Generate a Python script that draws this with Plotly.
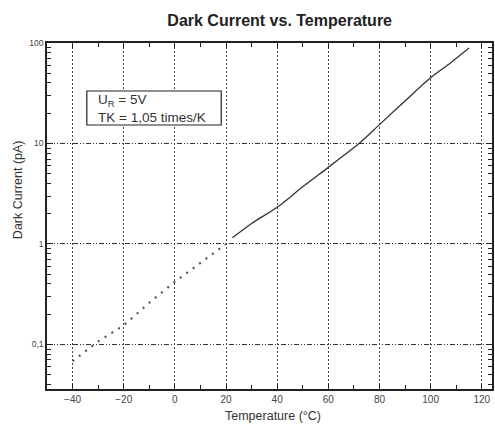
import plotly.graph_objects as go
import numpy as np

# Measured (solid) segment
temp_meas = [22.5, 30, 40, 50, 60, 66, 72, 80, 90, 100, 108, 115]
cur_meas = [1.15, 1.6, 2.32, 3.7, 5.78, 7.6, 10.0, 15.4, 26.5, 45.0, 64.0, 89.0]

# Extrapolated (dotted) segment
temp_extra = [-40, -30, -20, -10, 0, 10, 20]
cur_extra = [0.068, 0.107, 0.155, 0.26, 0.42, 0.65, 1.0]

x_ticks = [-40, -20, 0, 20, 40, 60, 80, 100, 120]
y_ticks = [0.1, 1, 10, 100]
y_ticklabels = ["0,1", "1", "10", "100"]
y_minor = [0.04, 0.05, 0.06, 0.07, 0.08, 0.09,
           0.2, 0.3, 0.4, 0.5, 0.6, 0.7, 0.8, 0.9,
           2, 3, 4, 5, 6, 7, 8, 9,
           20, 30, 40, 50, 60, 70, 80, 90]

fig = go.Figure()
fig.add_trace(go.Scatter(x=temp_extra, y=cur_extra, mode="lines",
                         line=dict(color="#555", width=2.2, dash="2px,6px"),
                         showlegend=False))
fig.add_trace(go.Scatter(x=temp_meas, y=cur_meas, mode="lines",
                         line=dict(color="#333", width=1.3, shape="spline"),
                         showlegend=False))

fig.update_layout(
    width=495, height=440,
    margin=dict(l=47, r=1, t=43, b=51),
    paper_bgcolor="white", plot_bgcolor="white",
    font=dict(family="Liberation Sans, Arial, sans-serif", color="#333"),
    title=dict(text="<b>Dark Current vs. Temperature</b>", x=0.565, xanchor="center",
               y=0.953, yanchor="middle", font=dict(size=16, color="#222")),
    xaxis=dict(range=[-50, 124], tickvals=x_ticks, ticks="inside", ticklen=6,
               tickcolor="#222", showline=True, linecolor="#222", linewidth=1.5,
               mirror="ticks", showgrid=True, gridcolor="#444", griddash="2px,2px",
               gridwidth=1, zeroline=False, tickfont=dict(size=10, color="#444"),
               minor=dict(dtick=10, tick0=0, ticks="inside", ticklen=4, tickcolor="#222", showgrid=False)),
    yaxis=dict(type="log", range=[np.log10(0.036), 2], tickvals=y_ticks, ticktext=y_ticklabels,
               ticks="inside", ticklen=6, tickcolor="#222", showline=True, linecolor="#222",
               linewidth=1.5, mirror="ticks", showgrid=True, gridcolor="#333",
               griddash="5px,2px,1px,2px,1px,2px", gridwidth=1.3, zeroline=False,
               tickfont=dict(size=8.5, color="#444"),
               minor=dict(tickvals=y_minor, ticks="inside", ticklen=4, tickcolor="#222", showgrid=False)),
)

# Axis titles
fig.add_annotation(xref="paper", yref="paper", x=(274 - 47) / 447, y=(389 - 416) / 346,
                   xanchor="center", yanchor="middle", showarrow=False,
                   text="Temperature (°C)", font=dict(size=12.5, color="#333"))
fig.add_annotation(xref="paper", yref="paper", x=(18 - 47) / 447, y=(389 - 190) / 346,
                   xanchor="center", yanchor="middle", showarrow=False, textangle=-90,
                   text="Dark Current (pA)", font=dict(size=12.5, color="#333"))

fig.add_shape(type="rect", xref="paper", yref="paper",
              x0=(87 - 47) / 447, x1=(222 - 47) / 447,
              y0=(389 - 125) / 346, y1=(389 - 91) / 346,
              line=dict(color="#222", width=1.2), fillcolor="white", layer="above")
fig.add_annotation(xref="paper", yref="paper", x=(96 - 47) / 447, y=(389 - 108) / 346,
                   xanchor="left", yanchor="middle", align="left", showarrow=False,
                   text="U<sub>R</sub> = 5V<br>TK = 1,05 times/K",
                   font=dict(size=13.5, color="#333"))

fig.write_html("out.html")
